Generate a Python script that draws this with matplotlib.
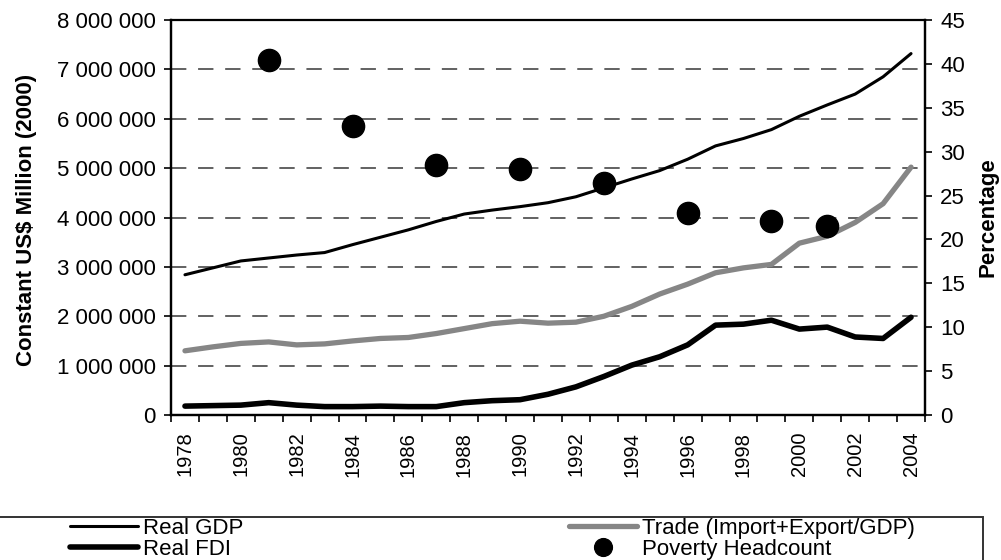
import matplotlib
matplotlib.use("Agg")
import matplotlib.pyplot as plt
from matplotlib.patches import Rectangle
from matplotlib.ticker import FuncFormatter, MultipleLocator
import numpy as np

plt.rcParams['font.family'] = ['Liberation Sans', 'DejaVu Sans']

years = list(range(1978, 2005))

# constant US$ million (2000)
real_gdp = [2840000, 2980000, 3120000, 3180000, 3240000, 3290000, 3450000, 3600000, 3750000,
            3920000, 4070000, 4150000, 4220000, 4300000, 4420000, 4600000, 4780000, 4950000,
            5180000, 5450000, 5600000, 5780000, 6050000, 6280000, 6500000, 6850000, 7320000]
real_fdi = [180000, 190000, 200000, 250000, 200000, 170000, 170000, 180000, 170000,
            170000, 250000, 290000, 310000, 420000, 570000, 780000, 1010000, 1180000,
            1420000, 1820000, 1840000, 1920000, 1740000, 1780000, 1580000, 1550000, 1980000]
trade = [1300000, 1380000, 1450000, 1480000, 1420000, 1440000, 1500000, 1550000, 1570000,
         1650000, 1750000, 1850000, 1900000, 1860000, 1880000, 2000000, 2200000, 2450000,
         2650000, 2880000, 2980000, 3050000, 3480000, 3620000, 3900000, 4280000, 5020000]

# percentage
poverty_years = [1981, 1984, 1987, 1990, 1993, 1996, 1999, 2001]
poverty = [40.4, 32.9, 28.5, 28.0, 26.4, 23.0, 22.1, 21.5]

fig = plt.figure(figsize=(10.01, 5.6), dpi=100)
ax = fig.add_axes([171/1001, 1 - 415/560, (925 - 171)/1001, (415 - 20)/560])
ax2 = ax.twinx()

l_gdp, = ax.plot(years, real_gdp, color='black', lw=2.2, solid_capstyle='round')
l_trade, = ax.plot(years, trade, color='#868686', lw=3.8, solid_capstyle='round')
l_fdi, = ax.plot(years, real_fdi, color='black', lw=4.0, solid_capstyle='round')
l_pov, = ax2.plot(poverty_years, poverty, 'o', color='black', ms=16, ls='none')

ax.set_xlim(1977.5, 2004.5)
ax.set_ylim(0, 8000000)
ax2.set_ylim(0, 45)

ax.yaxis.set_major_locator(MultipleLocator(1000000))
ax.yaxis.set_major_formatter(FuncFormatter(lambda v, p: f"{v:,.0f}".replace(",", " ")))
ax2.yaxis.set_major_locator(MultipleLocator(5))

for g in range(1, 8):
    ax.axhline(g * 1000000, color='#555555', lw=1.3, dashes=(8.5, 6.5), zorder=0)

ax.set_xticks(years[::2])
ax.set_xticklabels([str(y) for y in years[::2]], rotation=90)
ax.set_xticks(np.arange(1977.5, 2005, 1), minor=True)
ax.tick_params(axis='x', which='major', length=0, labelsize=14.5, pad=12)
ax.tick_params(axis='x', which='minor', length=5, width=1.2)
ax.tick_params(axis='y', labelsize=16, length=5, width=1.2, pad=6)
ax2.tick_params(axis='y', labelsize=16, length=5, width=1.2, pad=6)

for sp in ax.spines.values():
    sp.set_linewidth(1.6)
for sp in ax2.spines.values():
    sp.set_linewidth(1.6)
ax.spines['top'].set_linewidth(1.2)

ax.set_ylabel('Constant US$ Million (2000)', fontsize=16, fontweight='bold')
ax.yaxis.set_label_coords(-0.178, 0.494)
ax2.set_ylabel('Percentage', fontsize=16, fontweight='bold')
ax2.yaxis.set_label_coords(1.070, 0.50)

fig.legend([l_gdp, l_fdi, l_trade, l_pov],
           ['Real GDP', 'Real FDI', 'Trade (Import+Export/GDP)', 'Poverty Headcount'],
           ncol=2, mode='expand', loc='upper left',
           bbox_to_anchor=(70/1001, 0.0, 845/1001, 1 - 518/560),
           frameon=False, fontsize=16, handlelength=3.06, handletextpad=0.22,
           labelspacing=0.0, borderpad=0, borderaxespad=0, markerscale=0.8)

fig.patches.append(Rectangle((-0.01, -0.05), 0.01 + 983/1001, 0.05 + 1 - 517/560,
                             transform=fig.transFigure, fill=False, lw=1.4, ec='#333333'))

fig.savefig('out.png', dpi=100)
